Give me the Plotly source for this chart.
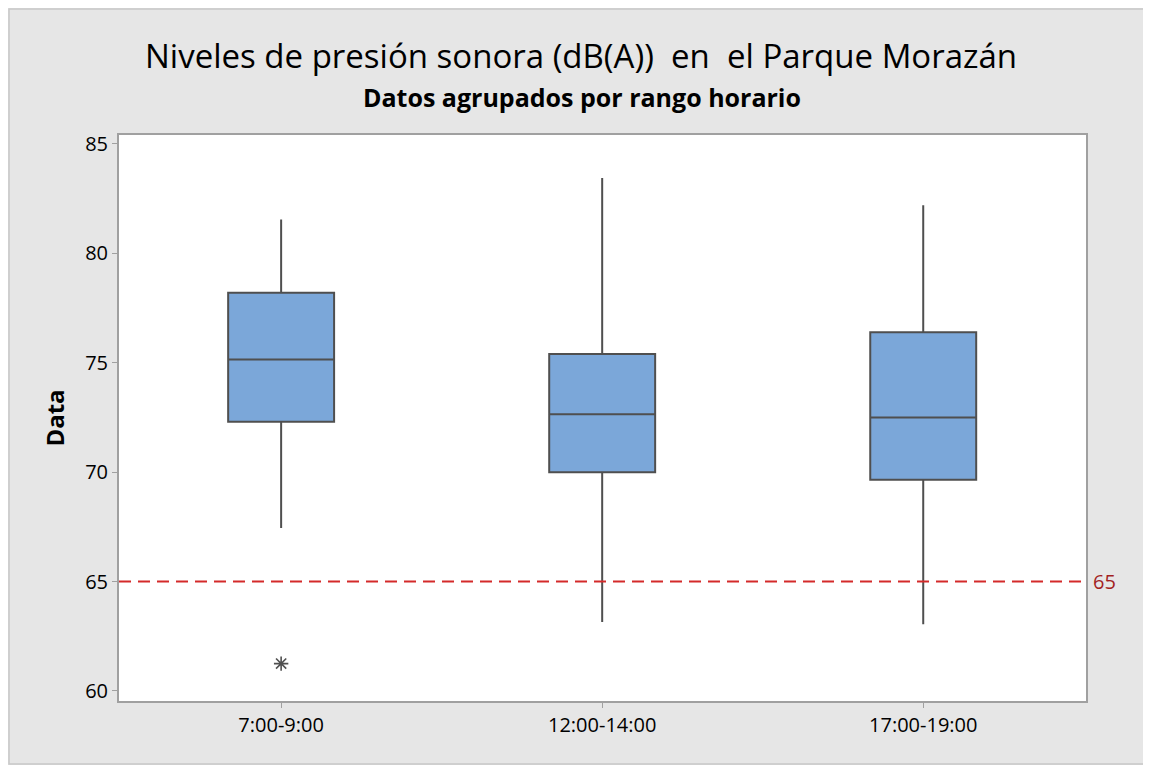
import plotly.graph_objects as go

categories = ["7:00-9:00", "12:00-14:00", "17:00-19:00"]
q1 = [72.3, 70.0, 69.65]
median = [75.15, 72.65, 72.5]
q3 = [78.2, 75.4, 76.4]
lower_whisker = [67.45, 63.15, 63.05]
upper_whisker = [81.55, 83.45, 82.2]
outlier_cat = ["7:00-9:00"]
outlier_val = [61.25]
limit = 65

FONT = "Open Sans, Noto Sans, DejaVu Sans, sans-serif"

W, H = 1140, 757
L, R, T, B = 111, 1140 - 1078, 127, 757 - 693
PW, PH = W - L - R, H - T - B

fig = go.Figure()
fig.add_trace(go.Box(
    x=categories, q1=q1, median=median, q3=q3,
    lowerfence=lower_whisker, upperfence=upper_whisker,
    fillcolor="#7BA7D9", line=dict(color="#4F4F4F", width=2),
    width=0.33, whiskerwidth=0, boxpoints=False, showlegend=False,
    hoverinfo="y",
))
fig.add_trace(go.Scatter(
    x=outlier_cat, y=outlier_val, mode="markers",
    marker=dict(symbol="asterisk-open", size=12, color="#505050",
                line=dict(color="#505050", width=1.6)),
    showlegend=False,
))
fig.add_hline(y=limit, line=dict(color="#D42A2A", width=2, dash="12px,7px"))
fig.add_annotation(x=1, xref="paper", y=limit, yref="y", text=str(limit),
                   showarrow=False, xanchor="left", xshift=5,
                   font=dict(family=FONT, size=20, color="#A31F1F"))

fig.add_annotation(x=0.5, xref="paper", y=1 + (T - 48) / PH, yref="paper",
                   text="Niveles de presión sonora (dB(A))  en  el Parque Morazán",
                   showarrow=False, xanchor="center", yanchor="middle", xshift=-22,
                   font=dict(family=FONT, size=33, color="black"))
fig.add_annotation(x=0.5, xref="paper", y=1 + (T - 89) / PH, yref="paper",
                   text="<b>Datos agrupados por rango horario</b>",
                   showarrow=False, xanchor="center", yanchor="middle", xshift=-21,
                   font=dict(family=FONT, size=25, color="black"))

fig.update_layout(
    width=W, height=H,
    paper_bgcolor="#E6E6E6", plot_bgcolor="white",
    margin=dict(l=L, r=R, t=T, b=B),
    font=dict(family=FONT, color="black"),
    xaxis=dict(
        type="category", range=[-0.505, 2.507],
        showgrid=False, zeroline=False,
        showline=True, linecolor="#A0A0A0", linewidth=2, mirror=True,
        ticks="outside", ticklen=5, tickcolor="#A0A0A0",
        tickfont=dict(size=20, family=FONT),
    ),
    yaxis=dict(
        range=[59.54, 85.41], tickvals=[60, 65, 70, 75, 80, 85],
        showgrid=False, zeroline=False,
        showline=True, linecolor="#A0A0A0", linewidth=2, mirror=True,
        ticks="outside", ticklen=5, tickcolor="#A0A0A0",
        tickfont=dict(size=20, family=FONT),
        title=dict(text="<b>Data</b>", font=dict(size=24, family=FONT), standoff=14),
    ),
)

fig.add_shape(type="rect", xref="paper", yref="paper",
              x0=-(L - 1) / PW, x1=1 + (R - 1) / PW, y0=-(B - 1) / PH, y1=1 + (T - 1) / PH,
              line=dict(color="#C8C8C8", width=1.5), fillcolor="rgba(0,0,0,0)",
              layer="below")

fig.write_html("out.html")
